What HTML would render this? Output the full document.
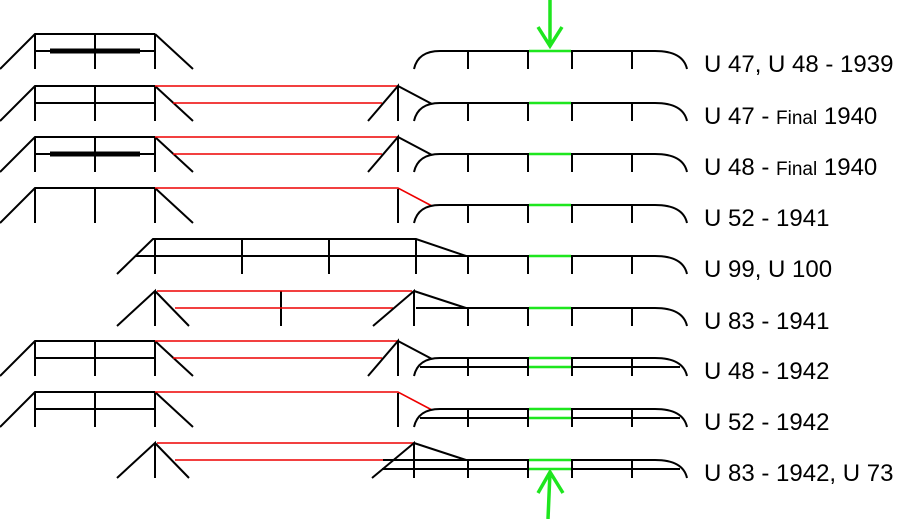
<!DOCTYPE html>
<html><head><meta charset="utf-8"><style>
html,body{margin:0;padding:0;background:#fff;width:898px;height:519px;overflow:hidden}
svg{display:block}
text{font-family:"Liberation Sans",sans-serif;font-size:24px;fill:#000}
.k{stroke:#000;stroke-width:2;fill:none}
.r{stroke:#e00;stroke-width:1.6;fill:none}
.g{stroke:#1ee61e;stroke-width:2.5;fill:none}
</style></head><body>
<svg width="898" height="519" viewBox="0 0 898 519" xmlns="http://www.w3.org/2000/svg">
<defs>
<g id="L">
<path class="k" d="M0,35 L35,0 L155,0 M35,17 L155,17 M35,0 V35 M95,0 V35 M155,0 V35 M155,0 L193,35"/>
</g>
<g id="RA">
<path class="k" d="M414,35 Q418,17 440,17 L655,17 Q683,17 687,35 M468,17 V35 M528,17 V35 M572,17 V35 M632,17 V35"/>
<path class="g" d="M529,17 H571"/>
</g>
<g id="RB">
<path class="k" d="M466,17 L655,17 Q683,17 687,35 M468,17 V35 M528,17 V35 M572,17 V35 M632,17 V35"/>
<path class="g" d="M529,17 H571"/>
</g>
<g id="LOW">
<path class="g" d="M529,26 H571"/>
</g>
</defs>

<g transform="translate(0,34)">
<use href="#L"/>
<path d="M50,17 H140" stroke="#000" stroke-width="5"/>
<use href="#RA"/>
<text x="704" y="38">U 47, U 48 - 1939</text>
</g>
<path class="g" d="M550,0 V46 M538,27 L550,46 L562,27" style="stroke-width:3.5"/>

<g transform="translate(0,86)">
<use href="#L"/>
<path class="r" d="M155,0 H398 M173,17 H382"/>
<path class="k" d="M368,35 L398,0 V35 M398,0 L432,18"/>
<use href="#RA"/>
<text x="704" y="38">U 47 - <tspan style="font-size:19px">Final</tspan> 1940</text>
</g>

<g transform="translate(0,137)">
<use href="#L"/>
<path d="M50,17 H140" stroke="#000" stroke-width="5"/>
<path class="r" d="M155,0 H398 M173,17 H382"/>
<path class="k" d="M368,35 L398,0 V35 M398,0 L432,18"/>
<use href="#RA"/>
<text x="704" y="38">U 48 - <tspan style="font-size:19px">Final</tspan> 1940</text>
</g>

<g transform="translate(0,188)">
<path class="k" d="M0,35 L35,0 L155,0 M35,0 V35 M95,0 V35 M155,0 V35 M155,0 L193,35"/>
<path class="r" d="M155,0 H398 L432,18"/>
<path class="k" d="M398,1 V35"/>
<use href="#RA"/>
<text x="704" y="38">U 52 - 1941</text>
</g>

<g transform="translate(0,239)">
<path class="k" d="M117,35 L153,0 H416 L466,17 M135,17 H466 M155,0 V35 M242,0 V35 M329,0 V35 M416,0 V35"/>
<use href="#RB"/>
<text x="704" y="38">U 99, U 100</text>
</g>

<g transform="translate(0,291)">
<path class="k" d="M117,35 L155,0 V35 M155,0 L189,35 M281,0 V35"/>
<path class="r" d="M157,0 H412 M175,17 H393"/>
<path class="k" d="M373,35 L414,0 V35 M414,0 L466,17 M416,17 H466"/>
<use href="#RB"/>
<text x="704" y="38">U 83 - 1941</text>
</g>

<g transform="translate(0,341)">
<use href="#L"/>
<path class="r" d="M155,0 H398 M173,17 H382"/>
<path class="k" d="M368,35 L398,0 V35 M398,0 L432,18"/>
<use href="#RA"/>
<path class="k" d="M420,26 H680"/>
<use href="#LOW"/>
<text x="704" y="38">U 48 - 1942</text>
</g>

<g transform="translate(0,392)">
<path class="k" d="M0,35 L35,0 L155,0 M35,17 L155,17 M35,0 V35 M95,0 V35 M155,0 V35 M155,0 L193,35"/>
<path class="r" d="M155,0 H398 L432,18"/>
<path class="k" d="M398,1 V35"/>
<use href="#RA"/>
<path class="k" d="M420,26 H680"/>
<use href="#LOW"/>
<text x="704" y="38">U 52 - 1942</text>
</g>

<g transform="translate(0,443)">
<path class="k" d="M117,35 L155,0 V35 M155,0 L189,35"/>
<path class="r" d="M157,0 H414 M175,17 H390"/>
<path class="k" d="M372,35 L414,0 V35 M414,0 L466,17 M383,17 H466 M382,26 H680"/>
<use href="#RB"/>
<use href="#LOW"/>
<text x="704" y="38">U 83 - 1942, U 73</text>
</g>
<path class="g" d="M548,519 L550,472 M538,493 L550,472 L563,493" style="stroke-width:3.5"/>
</svg>
</body></html>
